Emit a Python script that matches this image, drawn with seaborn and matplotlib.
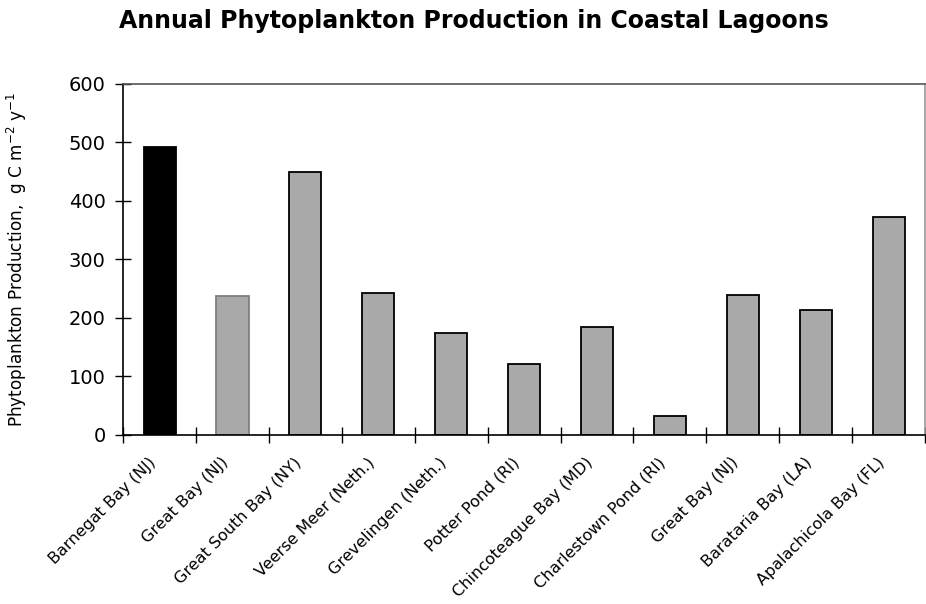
import matplotlib
matplotlib.use("Agg")
import matplotlib.pyplot as plt
import matplotlib.transforms as mtransforms
import seaborn as sns
import numpy as np

# data
lagoons = [
    "Barnegat Bay (NJ)",
    "Great Bay (NJ)",
    "Great South Bay (NY)",
    "Veerse Meer (Neth.)",
    "Grevelingen (Neth.)",
    "Potter Pond (RI)",
    "Chincoteague Bay (MD)",
    "Charlestown Pond (RI)",
    "Great Bay (NJ)",
    "Barataria Bay (LA)",
    "Apalachicola Bay (FL)",
]
production = [492, 238, 450, 242, 175, 122, 185, 32, 240, 213, 372]
y_ticks = [0, 100, 200, 300, 400, 500, 600]

sns.set_style("white")
plt.rcParams['font.family'] = ['DejaVu Sans']
plt.rcParams['text.color'] = 'black'
plt.rcParams['axes.labelcolor'] = 'black'
plt.rcParams['xtick.color'] = 'black'
plt.rcParams['ytick.color'] = 'black'

fig = plt.figure(figsize=(9.26, 6.04), dpi=100)
ax = fig.add_axes([0.133, 0.280, 0.866, 0.581])

pos = list(range(len(lagoons)))  # duplicate names -> use positions
sns.barplot(x=pos, y=production, color="#a9a9a9", width=0.44,
            edgecolor="black", linewidth=1.3, ax=ax)

# first bar black, second one with grey edge
ax.patches[0].set_facecolor("black")
ax.patches[1].set_edgecolor("#7f7f7f")

ax.set_xlim(-0.5, len(lagoons) - 0.5)
ax.set_ylim(0, 600)
ax.set_yticks(y_ticks)
ax.tick_params(axis='y', left=True, labelsize=14, direction='inout',
               length=11, width=1, pad=7)

# ticks between categories, labels under the bars
ax.set_xticks(np.arange(-0.5, len(lagoons), 1.0))
ax.set_xticklabels([])
ax.set_xticks(pos, minor=True)
ax.set_xticklabels(lagoons, minor=True, rotation=45, ha='right',
                   rotation_mode='anchor', fontsize=11.5)
ax.tick_params(axis='x', which='major', bottom=True, direction='inout',
               length=11, width=1)
ax.tick_params(axis='x', which='minor', bottom=True, length=0, pad=15)

# nudge the slanted labels a bit to the left
shift = mtransforms.ScaledTranslation(-12 / 100, 1 / 100, fig.dpi_scale_trans)
for lbl in ax.get_xticklabels(minor=True):
    lbl.set_transform(lbl.get_transform() + shift)

for s in ax.spines.values():
    s.set_color("black")
    s.set_linewidth(1.2)
ax.spines['right'].set_color("#999999")
ax.spines['top'].set_color("#555555")

ax.set_ylabel("Phytoplankton Production,  g C m$^{-2}$ y$^{-1}$", fontsize=12.2)
ax.yaxis.set_label_coords(-0.118, 0.5)

fig.suptitle("Annual Phytoplankton Production in Coastal Lagoons",
             fontsize=17, fontweight='bold', x=0.512, y=0.985)

plt.savefig("out.png", dpi=100)
